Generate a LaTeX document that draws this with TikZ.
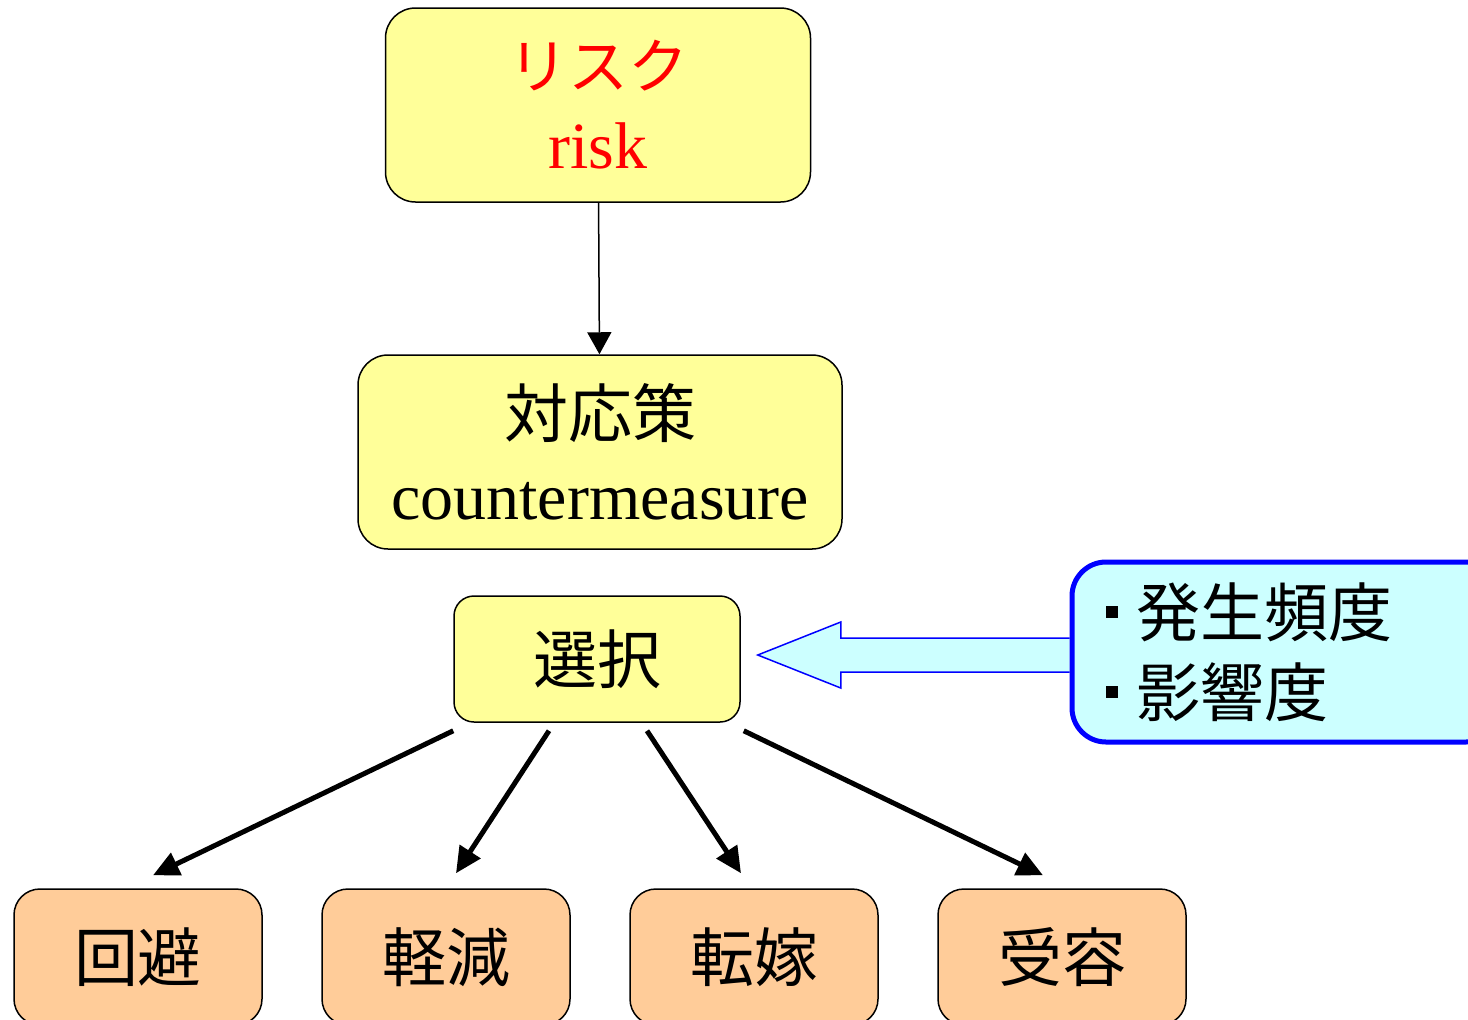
\documentclass[tikz,border=0pt]{standalone}
\usepackage{fontspec}
\setmainfont{Liberation Serif}
\newfontfamily\jpfont{Noto Sans CJK JP}
\usepackage{xcolor}
\usetikzlibrary{arrows.meta}
\usetikzlibrary{calc}
\usetikzlibrary{backgrounds}
\definecolor{boxyellow}{RGB}{255,255,153}
\definecolor{boxorange}{RGB}{255,204,153}
\definecolor{boxcyan}{RGB}{204,255,255}
\newcommand{\sqbullet}{\rule[9pt]{6pt}{6pt}\hspace{9pt}}
\tikzset{
	ybox/.style={draw=black, line width=0.75pt, fill=boxyellow, rounded corners=15pt, inner sep=0pt, align=center},
	obox/.style={draw=black, line width=0.75pt, fill=boxorange, rounded corners=13pt, inner sep=0pt,
		minimum width=124pt, minimum height=68pt, font=\jpfont\fontsize{32}{40}\selectfont},
	infobox/.style={draw=blue, line width=2.5pt, fill=boxcyan, rounded corners=17pt, inner xsep=17pt, inner ysep=0pt,
		minimum height=90pt, text width=180pt, align=left, font=\jpfont\fontsize{32}{40}\selectfont},
	thinarrow/.style={line width=0.75pt, -{Triangle[length=11pt, width=12pt]}},
	thickarrow/.style={line width=2.5pt, -{Triangle[length=13pt, width=12pt]}}
}

\begin{document}
\begin{tikzpicture}[x=0.5pt, y=-0.5pt]

	\useasboundingbox (0,0) rectangle (1468,1019);

	% top boxes
	\node[ybox, minimum width=212.5pt, minimum height=97pt, text=red,
		font=\fontsize{33}{40}\selectfont] (risk) at (598,105)
		{{\jpfont\fontsize{30}{40}\selectfont リスク}\\ risk};
	\node[ybox, minimum width=242pt, minimum height=97pt,
		font=\fontsize{33}{41}\selectfont] (counter) at (600,452)
		{{\jpfont\fontsize{32}{41}\selectfont 対応策}\\ countermeasure};
	\node[ybox, rounded corners=10pt, minimum width=143pt, minimum height=63pt,
		font=\jpfont\fontsize{32}{40}\selectfont] (sel) at (597,659) {選択};

	% four choices
	\node[obox] (avoid) at (138,957) {回避};
	\node[obox] (reduce) at (446,957) {軽減};
	\node[obox] (transfer) at (754,957) {転嫁};
	\node[obox] (accept) at (1062,957) {受容};

	% criteria
	\node[infobox] (info) at (1286,652) {\sqbullet 発生頻度\\\sqbullet 影響度};

	\draw[thinarrow] (risk) -- (counter);

	\draw[thickarrow] ($(sel.south west)+(0,8)$) -- ($(avoid.north)+(15,-13)$);
	\draw[thickarrow] ($(sel.south)+(-48,8)$) -- ($(reduce.north)+(10,-15)$);
	\draw[thickarrow] ($(sel.south)+(50,8)$) -- ($(transfer.north)+(-13,-15)$);
	\draw[thickarrow] ($(sel.south east)+(3,8)$) -- ($(accept.north)+(-19,-13)$);

	% block arrow into the choice
	\coordinate (tip) at ($(sel.east)+(17,-4)$);
	\begin{scope}[on background layer]
	\path[draw=blue, fill=boxcyan, line width=0.75pt]
		($(info.west |- tip)+(0,-17)$) -- ($(tip)+(83,-17)$) -- ++(0,-16) -- (tip)
		-- ($(tip)+(83,33)$) -- ++(0,-16) -- ($(info.west |- tip)+(0,17)$);
	\end{scope}

\end{tikzpicture}
\end{document}
